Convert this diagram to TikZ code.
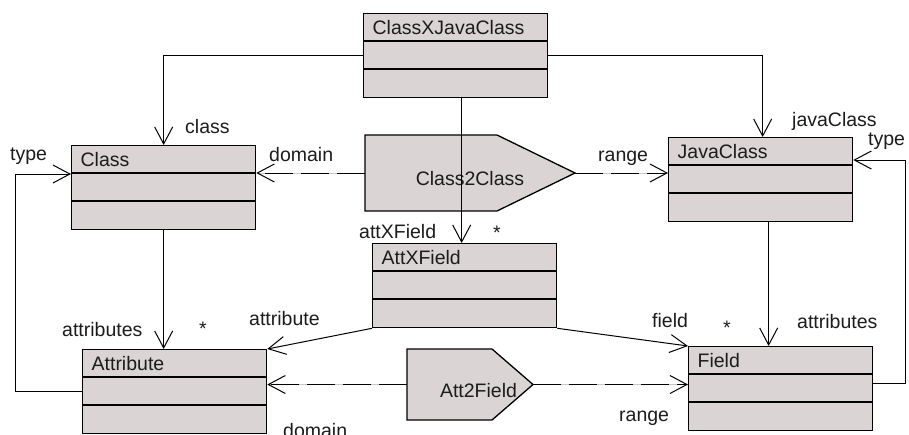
\documentclass[tikz,border=0pt]{standalone}
\usepackage{fontspec}
\setmainfont{Liberation Sans}
\usetikzlibrary{arrows.meta,calc,backgrounds}
\definecolor{umlFill}{RGB}{218,212,212}
\definecolor{umlText}{RGB}{28,28,28}

\begin{document}
\begin{tikzpicture}[x=1pt, y=-1pt,
    umlclass/.style={rectangle, draw, line width=1.3pt, fill=umlFill, anchor=north west,
               minimum width=184pt, minimum height=84pt, text width=166pt, align=left,
               inner xsep=9pt, inner ysep=0pt, text height=21pt, text depth=63pt,
               font=\fontsize{19.5}{23}\selectfont, text=umlText},
    sig/.style={inner sep=0pt, outer sep=0pt, font=\fontsize{19.5}{23}\selectfont,
               text=umlText},
    sigpath/.style={draw, line width=1.3pt, fill=umlFill},
    role/.style={anchor=base west, inner sep=0pt, font=\fontsize{19.5}{23}\selectfont,
               text=umlText},
    assoc/.style={-{Straight Barb[length=17pt, width=18pt]}, line width=1pt},
    dep/.style={assoc, dash pattern=on 28pt off 8pt,
               preaction={draw=black!22, solid, -, shorten >=2pt}}
  ]
  \useasboundingbox (0,0) rectangle (909,434);
  \clip (0,0) rectangle (909,434);

  % classes
  \node[umlclass] (cxjc)   at (363,13)  {ClassXJavaClass};
  \node[umlclass] (class)  at (71,145)  {Class};
  \node[umlclass] (jclass) at (668,137) {JavaClass};
  \node[umlclass] (axf)    at (372,243) {AttXField};
  \node[umlclass] (attr)   at (82,349)  {Attribute};
  \node[umlclass] (field)  at (688,346) {Field};
  \foreach \n in {cxjc,class,jclass,axf,attr,field} {
    \draw[line width=1.3pt] ([yshift=-28pt]\n.north west) -- ([yshift=-28pt]\n.north east);
    \draw[line width=1.3pt] ([yshift=-56pt]\n.north west) -- ([yshift=-56pt]\n.north east);
  }

  % transformations
  \node[sig, minimum width=210pt, minimum height=76pt, text height=24pt, text depth=0pt]
    (c2c) at (470,173) {Class2Class};
  \node[sig, minimum width=126pt, minimum height=71pt, text width=94pt, align=right,
        text height=25pt, text depth=0pt] (a2f) at (470,384.5) {Att2Field};
  \begin{pgfonlayer}{background}
    \draw[sigpath] (c2c.north west) -- ([xshift=-78pt]c2c.north east) -- (c2c.east)
      -- ([xshift=-78pt]c2c.south east) -- (c2c.south west) -- cycle;
    \draw[sigpath] (a2f.north west) -- ([xshift=-41pt]a2f.north east) -- (a2f.east)
      -- ([xshift=-41pt]a2f.south east) -- (a2f.south west) -- cycle;
  \end{pgfonlayer}

  % associations
  \draw[assoc] (cxjc.west) -| (class.north);
  \draw[assoc] (cxjc.east) -| ([xshift=2pt]jclass.north);
  \draw[assoc] ([xshift=-3pt]axf.north |- cxjc.south) -- ([xshift=-3pt]axf.north);
  \draw[dep] (c2c.west) -- (c2c.west -| class.east);
  \draw[dep] (c2c.east) -- (c2c.east -| jclass.west);
  \draw[assoc] (class.south) -- (class.south |- attr.north);
  \draw[assoc] (attr.west) -- ++(-67,0) |- ([yshift=-29pt]class.north west);
  \draw[assoc] (axf.south west) -- (attr.north east);
  \draw[assoc] (axf.south east) -- (field.north west);
  \draw[assoc] ([xshift=8pt]jclass.south) -- ([xshift=8pt]jclass.south |- field.north);
  \draw[assoc] ([yshift=5pt]field.east) -- ++(32,0) |- ([yshift=-23pt]jclass.north east);
  \draw[dep] (a2f.west) -- (a2f.west -| attr.east);
  \draw[dep] (a2f.east) -- (a2f.east -| field.west);

  % role names
  \node[role] (lclass)  at (185,133) {class};
  \node[role] (ltypeL)  at (10,160)  {type};
  \node[role] (ldomT)   at (269,161) {domain};
  \node[role] (lrangeT) at (598,161) {range};
  \node[role] (ljava)   at (792,126) {javaClass};
  \node[role] (ltypeR)  at (868,145) {type};
  \node[role] (lattxf)  at (359,238) {attXField};
  \node[role] (lstarT)  at (493,239) {*};
  \node[role] (lattsL)  at (62,336)  {attributes};
  \node[role] (lstarL)  at (199,335) {*};
  \node[role] (lattr)   at (249,325) {attribute};
  \node[role] (lfield)  at (652,327) {field};
  \node[role] (lstarR)  at (723,334) {*};
  \node[role] (lattsR)  at (797,328) {attributes};
  \node[role] (lrangeB) at (619,421) {range};
  \node[role] (ldomB)   at (283,437) {domain};
\end{tikzpicture}
\end{document}
